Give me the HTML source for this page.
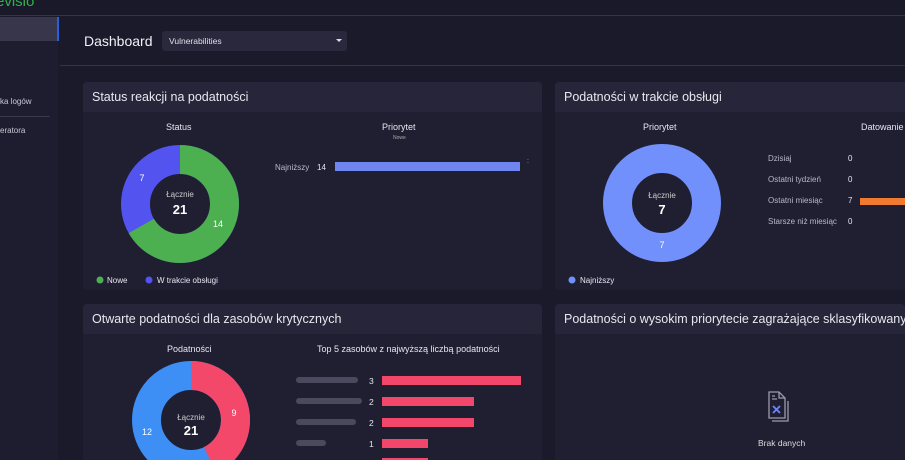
<!DOCTYPE html>
<html style="width:905px;height:460px;overflow:hidden"><head><meta charset="utf-8"><style>
*{margin:0;padding:0;box-sizing:border-box}
body{width:905px;height:460px;overflow:hidden;background:#1b1a2b;font-family:"Liberation Sans",sans-serif;color:#e6e6ee;position:relative}
.a{position:absolute;white-space:nowrap}
.card{position:absolute;background:#201f32;border-radius:4px 4px 0 0;overflow:hidden}
.hd{position:absolute;left:0;right:0;top:0;height:30px;background:#262539;font-size:12.5px;color:#e8e8f0;padding:8px 0 0 9px;white-space:nowrap}
.sm{font-size:8px;color:#b8b8c6}
</style></head><body>
<div class="a" style="left:0;top:0;width:905px;height:16px;background:#1a1929;border-bottom:1px solid #34334a"></div>
<div class="a" style="left:-4px;top:-7px;font-size:15px;color:#2fb34a">evisio</div>
<div class="a" style="left:0;top:17px;width:58px;height:443px;background:#1e1d2f"></div>
<div class="a" style="left:0;top:17px;width:57px;height:24px;background:#37364a"></div>
<div class="a" style="left:57px;top:17px;width:2px;height:24px;background:#2a5fe0"></div>
<div class="a" style="left:0;top:97px;font-size:8px;color:#c8c8d4">ka logów</div>
<div class="a" style="left:0;top:116px;width:50px;height:1px;background:#3a3950"></div>
<div class="a" style="left:0;top:126px;font-size:8px;color:#c8c8d4">eratora</div>
<div class="a" style="left:84px;top:33px;font-size:14px;color:#f0f0f6">Dashboard</div>
<div class="a" style="left:162px;top:31px;width:185px;height:20px;background:#29283c;border-radius:3px"></div>
<div class="a" style="left:169px;top:36px;font-size:8.5px;color:#e0e0ea">Vulnerabilities</div>
<div class="a" style="left:336px;top:39px;width:0;height:0;border-left:3px solid transparent;border-right:3px solid transparent;border-top:3px solid #ddd"></div>
<div class="a" style="left:60px;top:65px;width:845px;height:1px;background:#34334a"></div>

<div class="card" style="left:83px;top:82px;width:459px;height:208px;border-radius:4px"><div class="hd">Status reakcji na podatności</div></div>
<div class="card" style="left:555px;top:82px;width:350px;height:208px;border-radius:4px 0 0 4px"><div class="hd">Podatności w trakcie obsługi</div></div>
<div class="card" style="left:83px;top:304px;width:459px;height:156px"><div class="hd">Otwarte podatności dla zasobów krytycznych</div></div>
<div class="card" style="left:555px;top:304px;width:350px;height:156px"><div class="hd">Podatności o wysokim priorytecie zagrażające sklasyfikowanym grupom</div></div>

<svg class="a" style="left:0;top:0" width="905" height="460">
<circle cx="180" cy="204" r="44.5" fill="none" stroke="#5353f0" stroke-width="29"/>
<circle cx="180" cy="204" r="44.5" fill="none" stroke="#4caf50" stroke-width="29" stroke-dasharray="186.4 400" transform="rotate(-90 180 204)"/>
<circle cx="662" cy="203" r="44.5" fill="none" stroke="#7190fb" stroke-width="29"/>
<circle cx="191" cy="420" r="44.5" fill="none" stroke="#3d8ef5" stroke-width="29"/>
<circle cx="191" cy="420" r="44.5" fill="none" stroke="#f4486b" stroke-width="29" stroke-dasharray="119.8 400" transform="rotate(-90 191 420)"/>
<g font-family="Liberation Sans,sans-serif" fill="#fff" text-anchor="middle">
<text x="180" y="197" font-size="8" fill="#ccc">Łącznie</text><text x="180" y="214" font-size="13" font-weight="bold">21</text>
<text x="142" y="181" font-size="9">7</text><text x="218" y="227" font-size="9">14</text>
<text x="662" y="198" font-size="8" fill="#ccc">Łącznie</text><text x="662" y="214" font-size="13" font-weight="bold">7</text>
<text x="662" y="248" font-size="9">7</text>
<text x="191" y="420" font-size="8" fill="#ccc">Łącznie</text><text x="191" y="435" font-size="13" font-weight="bold">21</text>
<text x="234" y="416" font-size="9">9</text><text x="147" y="435" font-size="9">12</text>
</g>
<rect x="335" y="162" width="185" height="9" fill="#6f86f0"/>
<rect x="860" y="198" width="50" height="7" fill="#f07a30"/>
<rect x="382" y="376" width="139" height="9" fill="#f2466a"/>
<rect x="382" y="397" width="92" height="9" fill="#f2466a"/>
<rect x="382" y="418" width="92" height="9" fill="#f2466a"/>
<rect x="382" y="439" width="46" height="9" fill="#f2466a"/>
<rect x="382" y="458" width="46" height="9" fill="#f2466a"/>
<circle cx="100" cy="280" r="3.5" fill="#4caf50"/><circle cx="149" cy="280" r="3.5" fill="#5353f0"/>
<circle cx="572" cy="280" r="3.5" fill="#7190fb"/>
<g fill="none" stroke="#9a9aae" stroke-width="1.3"><path d="M769 392h10l6 6v20h-16z"/><path d="M779 392v6h6"/><path d="M788 401v20h-16"/><path d="M772 396h3M772 399h5"/></g>
<path d="M773 406l7 7M780 406l-7 7" stroke="#6f86f0" stroke-width="1.8"/>
<g fill="#4a495e"><rect x="296" y="377" width="62" height="6" rx="3"/><rect x="296" y="398" width="66" height="6" rx="3"/><rect x="296" y="419" width="60" height="6" rx="3"/><rect x="296" y="440" width="30" height="6" rx="3"/></g>
</svg>
<div class="a" style="left:166px;top:122px;font-size:9px">Status</div>
<div class="a" style="left:382px;top:122px;font-size:9px">Priorytet</div>
<div class="a" style="left:393px;top:135px;font-size:5px;color:#aaa">Nowe</div>
<div class="a sm" style="left:275px;top:163px">Najniższy</div>
<div class="a" style="left:317px;top:163px;font-size:8px">14</div>
<div class="a" style="left:527px;top:158px;font-size:7px;color:#aaa">:</div>
<div class="a" style="left:107px;top:276px;font-size:8px">Nowe</div>
<div class="a" style="left:157px;top:276px;font-size:8px">W trakcie obsługi</div>
<div class="a" style="left:643px;top:122px;font-size:9px">Priorytet</div>
<div class="a" style="left:861px;top:122px;font-size:9px">Datowanie</div>
<div class="a sm" style="left:768px;top:154px">Dzisiaj</div><div class="a" style="left:848px;top:154px;font-size:8px">0</div>
<div class="a sm" style="left:768px;top:175px">Ostatni tydzień</div><div class="a" style="left:848px;top:175px;font-size:8px">0</div>
<div class="a sm" style="left:768px;top:196px">Ostatni miesiąc</div><div class="a" style="left:848px;top:196px;font-size:8px">7</div>
<div class="a sm" style="left:768px;top:217px">Starsze niż miesiąc</div><div class="a" style="left:848px;top:217px;font-size:8px">0</div>
<div class="a" style="left:580px;top:276px;font-size:8px">Najniższy</div>
<div class="a" style="left:167px;top:344px;font-size:9px">Podatności</div>
<div class="a" style="left:317px;top:344px;font-size:9px">Top 5 zasobów z najwyższą liczbą podatności</div>
<div class="a" style="left:369px;top:376px;font-size:8.5px">3</div>
<div class="a" style="left:369px;top:397px;font-size:8.5px">2</div>
<div class="a" style="left:369px;top:418px;font-size:8.5px">2</div>
<div class="a" style="left:369px;top:439px;font-size:8.5px">1</div>
<div class="a" style="left:758px;top:438px;font-size:8.5px;color:#ddd">Brak danych</div>
</body></html>
